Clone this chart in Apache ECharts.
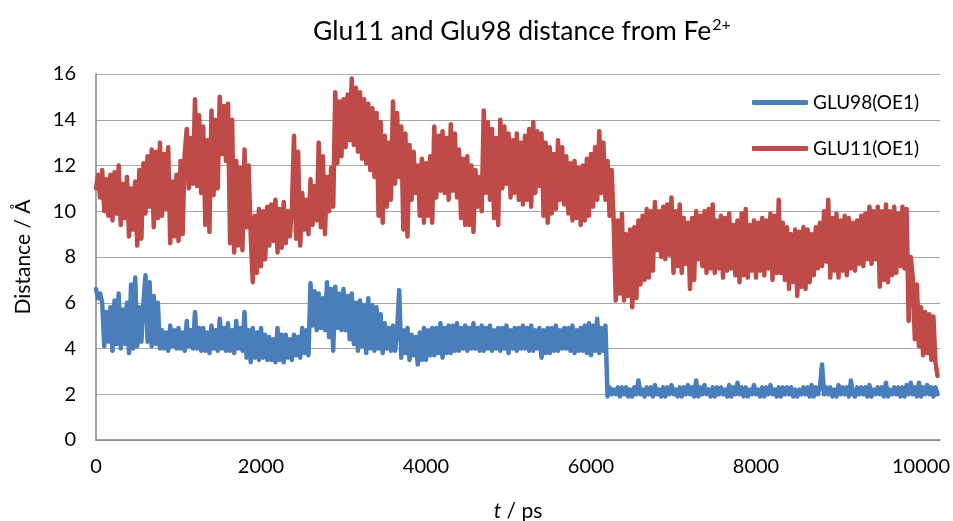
<!DOCTYPE html>
<html>
<head>
<meta charset="utf-8">
<title>Glu11 and Glu98 distance from Fe2+</title>
<script src="https://cdn.jsdelivr.net/npm/echarts@6/dist/echarts.min.js"></script>
<style>
  html, body { margin: 0; padding: 0; background: #fff; }
  #main { width: 953px; height: 521px; }
</style>
</head>
<body>
<div id="main"></div>
<script>
// sampling step of the traces (ps)
const stepPs = 25;

// GLU11(OE1) distance, Å, one value every 25 ps from 0 ps (20 values = 500 ps per row)
const glu11 = [
  11.0, 11.6, 10.6, 11.8, 10.0, 11.4, 9.8, 11.6, 9.6, 11.7, 9.9, 12.0, 9.4, 11.2, 9.7, 11.5, 8.9, 11.0, 9.2, 11.3,
  8.5, 11.8, 8.8, 12.1, 9.9, 12.4, 10.2, 12.7, 9.3, 12.6, 9.7, 13.0, 9.8, 12.5, 10.1, 12.8, 8.6, 11.3, 8.9, 11.6,
  8.7, 12.2, 9.0, 12.5, 13.6, 11.0, 13.2, 11.2, 14.9, 11.1, 14.2, 10.8, 13.7, 9.4, 13.1, 9.1, 14.4, 10.7, 14.0, 11.0,
  15.0, 12.5, 14.6, 12.2, 14.7, 8.6, 14.0, 8.2, 12.2, 8.5, 11.9, 8.3, 12.7, 9.3, 12.0, 9.0, 6.9, 9.8, 7.3, 10.1,
  7.6, 10.0, 7.9, 10.2, 8.5, 10.3, 8.7, 10.5, 8.2, 10.1, 8.4, 10.4, 8.6, 10.0, 8.9, 10.2, 13.3, 8.8, 12.6, 8.5,
  10.8, 9.2, 10.5, 9.0, 11.4, 9.4, 11.1, 9.6, 13.0, 9.3, 12.4, 9.0, 11.5, 10.0, 11.9, 10.2, 15.2, 12.1, 14.8, 12.4,
  14.9, 12.8, 15.1, 13.1, 15.8, 12.9, 15.4, 12.6, 15.2, 12.3, 14.9, 12.1, 14.7, 11.8, 14.5, 11.5, 14.3, 9.8, 13.9, 9.5,
  13.3, 10.2, 13.0, 10.5, 14.8, 11.2, 14.3, 11.5, 13.7, 9.2, 13.4, 8.9, 12.9, 10.5, 12.6, 10.8, 12.0, 9.8, 12.3, 9.5,
  12.1, 9.8, 12.4, 9.5, 13.7, 10.6, 13.3, 10.9, 13.5, 10.8, 13.2, 10.5, 13.8, 10.9, 13.4, 10.6, 12.7, 9.7, 12.3, 9.4,
  12.4, 9.4, 12.0, 9.1, 11.8, 10.2, 11.5, 10.0, 14.4, 10.8, 13.9, 10.5, 13.6, 9.7, 13.2, 9.4, 14.0, 11.0, 13.7, 11.2,
  13.4, 10.6, 13.1, 10.8, 13.4, 10.5, 13.0, 10.3, 13.3, 10.5, 13.6, 10.2, 13.9, 10.8, 13.5, 11.1, 13.4, 9.8, 13.0, 9.5,
  12.8, 9.9, 12.5, 10.1, 13.1, 10.5, 12.8, 10.3, 12.4, 9.9, 12.1, 9.6, 12.2, 9.7, 11.9, 9.4, 12.0, 9.6, 12.3, 9.8,
  12.5, 10.2, 12.8, 10.5, 13.5, 10.8, 13.0, 10.5, 12.2, 9.8, 11.8, 9.5, 6.1, 9.6, 6.4, 9.9, 6.1, 9.0, 6.3, 9.2,
  5.8, 9.3, 6.2, 9.6, 6.8, 9.8, 7.0, 10.1, 7.1, 10.0, 7.4, 10.4, 8.3, 10.0, 8.0, 10.2, 7.9, 10.3, 8.1, 10.6,
  7.3, 10.0, 7.6, 10.3, 7.3, 9.7, 7.7, 9.5, 6.6, 9.7, 7.0, 10.0, 7.9, 9.8, 7.6, 10.0, 7.3, 10.1, 7.5, 10.3,
  7.3, 9.6, 7.5, 9.8, 7.1, 9.7, 7.4, 9.9, 7.5, 9.4, 7.2, 9.6, 6.9, 9.9, 7.2, 10.1, 7.1, 9.4, 7.4, 9.6,
  7.1, 9.5, 7.4, 9.7, 7.2, 9.6, 7.5, 9.9, 7.0, 9.8, 7.3, 10.5, 7.3, 9.5, 7.0, 9.3, 6.6, 9.0, 6.9, 9.2,
  6.3, 9.1, 6.7, 9.3, 6.6, 9.2, 6.9, 9.0, 7.2, 9.3, 7.5, 9.5, 7.6, 10.0, 7.8, 10.5, 7.1, 9.7, 7.4, 9.9,
  7.1, 9.6, 7.4, 9.8, 7.2, 9.7, 7.5, 9.5, 7.4, 9.6, 7.7, 9.8, 7.6, 9.9, 7.9, 10.2, 7.7, 10.0, 7.9, 10.2,
  6.7, 10.0, 7.0, 10.3, 6.9, 10.0, 7.2, 10.2, 7.3, 9.9, 7.6, 10.2, 7.5, 10.1, 5.2, 8.0, 7.1, 4.4, 6.8, 4.1,
  5.8, 3.7, 5.6, 3.8, 5.5, 3.5, 5.4, 3.4, 2.8
];

// GLU98(OE1) distance, Å, one value every 25 ps from 0 ps (20 values = 500 ps per row)
const glu98 = [
  6.6, 6.2, 6.4, 6.0, 4.1, 5.6, 4.3, 5.8, 3.9, 6.1, 4.2, 6.4, 4.0, 5.7, 4.2, 6.0, 3.8, 6.8, 4.0, 7.1,
  4.1, 5.8, 4.3, 6.0, 7.2, 4.3, 6.9, 4.1, 6.3, 4.2, 6.0, 4.0, 4.8, 4.0, 4.7, 3.9, 5.0, 4.1, 4.8, 4.0,
  4.9, 4.0, 4.7, 3.9, 5.2, 4.1, 4.8, 4.0, 5.6, 4.0, 4.9, 3.9, 4.9, 3.9, 4.7, 3.8, 5.0, 4.0, 4.8, 3.9,
  5.3, 4.0, 4.9, 3.9, 5.1, 3.9, 4.8, 3.8, 5.2, 4.0, 4.9, 3.9, 5.6, 3.6, 4.8, 3.4, 4.9, 3.6, 4.7, 3.5,
  4.9, 3.6, 4.6, 3.5, 4.5, 3.5, 4.4, 3.4, 4.9, 3.5, 4.6, 3.4, 4.6, 3.6, 4.4, 3.5, 4.6, 3.7, 4.5, 3.6,
  4.9, 3.8, 4.8, 3.7, 6.85, 5.0, 6.5, 4.8, 6.4, 4.9, 6.2, 4.8, 6.9, 4.5, 6.6, 3.9, 6.7, 4.9, 6.4, 4.8,
  6.6, 4.8, 6.3, 4.4, 6.4, 4.2, 6.0, 3.9, 6.1, 4.1, 5.9, 3.8, 6.2, 4.0, 5.9, 3.9, 5.8, 4.0, 5.5, 3.8,
  5.1, 4.0, 4.9, 3.9, 5.0, 3.9, 4.8, 6.55, 3.6, 4.8, 3.8, 4.9, 3.5, 4.6, 3.7, 4.5, 3.3, 4.7, 3.5, 4.9,
  3.5, 4.8, 3.7, 4.9, 3.7, 4.9, 3.8, 5.1, 3.6, 4.9, 3.8, 5.0, 3.8, 5.0, 3.9, 5.1, 3.9, 4.9, 4.0, 5.0,
  3.9, 4.9, 4.0, 5.1, 4.0, 4.9, 3.9, 5.0, 3.9, 4.9, 4.0, 5.0, 3.9, 4.8, 4.0, 4.9, 3.9, 4.9, 4.0, 5.0,
  3.8, 4.8, 4.0, 4.9, 3.9, 4.9, 4.0, 5.0, 4.0, 4.9, 3.9, 5.0, 3.9, 4.8, 4.0, 4.9, 3.6, 4.8, 3.8, 4.9,
  3.8, 4.9, 3.9, 5.0, 3.9, 4.8, 4.0, 4.9, 4.0, 4.9, 3.9, 5.0, 3.8, 4.8, 3.9, 4.9, 3.9, 5.0, 3.8, 5.1,
  3.7, 5.0, 3.9, 5.3, 3.8, 4.9, 3.9, 5.0, 1.9, 2.3, 2.0, 2.2, 2.0, 2.3, 1.9, 2.3, 2.0, 2.3, 1.9, 2.2,
  1.9, 2.3, 2.0, 2.6, 2.0, 2.2, 1.9, 2.3, 2.0, 2.3, 1.9, 2.4, 2.0, 2.2, 1.9, 2.3, 1.9, 2.3, 2.0, 2.4,
  2.0, 2.2, 1.9, 2.3, 1.9, 2.3, 2.0, 2.4, 2.0, 2.3, 1.9, 2.6, 1.9, 2.3, 2.0, 2.4, 2.0, 2.2, 1.9, 2.3,
  1.9, 2.3, 2.0, 2.3, 2.0, 2.2, 1.9, 2.4, 1.9, 2.3, 2.0, 2.5, 2.0, 2.3, 1.9, 2.3, 1.9, 2.2, 2.0, 2.4,
  2.0, 2.2, 1.9, 2.3, 1.9, 2.3, 2.0, 2.4, 2.0, 2.2, 1.9, 2.3, 1.9, 2.3, 2.0, 2.3, 2.0, 2.3, 1.9, 2.2,
  1.9, 2.2, 2.0, 2.3, 2.0, 2.3, 1.9, 2.4, 1.9, 2.3, 2.0, 2.3, 3.3, 2.0, 2.3, 2.0, 2.3, 1.9, 2.2, 1.9,
  2.4, 2.0, 2.3, 2.0, 2.3, 1.9, 2.6, 2.0, 1.9, 2.3, 2.0, 2.3, 2.0, 2.3, 1.9, 2.4, 1.9, 2.2, 2.0, 2.3,
  2.0, 2.3, 1.9, 2.5, 1.9, 2.2, 2.0, 2.3, 2.0, 2.3, 1.9, 2.3, 1.9, 2.4, 2.0, 2.5, 2.0, 2.3, 1.9, 2.5,
  1.9, 2.3, 2.0, 2.4, 2.0, 2.3, 1.9, 2.3, 2.0
];

const yTicks = [0, 2, 4, 6, 8, 10, 12, 14, 16];
const xTicks = [0, 2000, 4000, 6000, 8000, 10000];

function toPairs(values) {
  return values.map(function (v, i) { return [i * stepPs, v]; });
}

const font = 'Lato, "Open Sans", sans-serif';
const chart = echarts.init(document.getElementById('main'));

const option = {
  animation: false,
  backgroundColor: '#fff',
  textStyle: { fontFamily: font, color: '#000' },
  title: {
    text: '{a|Glu11 and Glu98 distance from Fe}{s|2+}',
    left: 308,
    top: 12,
    textStyle: {
      rich: {
        a: { fontFamily: font, fontSize: 26.5, fontWeight: 'normal', color: '#000' },
        s: { fontFamily: font, fontSize: 16, fontWeight: 'normal', color: '#000', padding: [0, 0, 12, 1] }
      }
    }
  },
  legend: {
    orient: 'vertical',
    left: 747,
    top: 88,
    icon: 'roundRect',
    itemWidth: 56,
    itemHeight: 5,
    itemGap: 27,
    data: ['GLU98(OE1)', 'GLU11(OE1)'],
    textStyle: { fontFamily: font, fontSize: 19, color: '#000' }
  },
  grid: {
    left: 96,
    right: 13,
    top: 74,
    bottom: 81,
    outerBoundsMode: 'none'
  },
  xAxis: {
    type: 'value',
    min: xTicks[0],
    max: 10230,
    interval: 2000,
    name: '{i|t} / ps',
    nameLocation: 'middle',
    nameGap: 61,
    nameTextStyle: {
      fontFamily: font, fontSize: 21, color: '#000',
      rich: { i: { fontFamily: font, fontSize: 21, fontStyle: 'italic', color: '#000' } }
    },
    axisLine: { lineStyle: { color: '#868686', width: 1.5 } },
    axisTick: { show: false },
    splitLine: { show: false },
    axisLabel: {
      fontFamily: font, fontSize: 20, color: '#000', margin: 17,
      showMaxLabel: false,
      formatter: function (v) { return xTicks.indexOf(v) >= 0 ? String(v) : ''; }
    }
  },
  yAxis: {
    type: 'value',
    min: yTicks[0],
    max: yTicks[yTicks.length - 1],
    interval: 2,
    name: 'Distance / Å',
    nameLocation: 'middle',
    nameGap: 62,
    nameTextStyle: { fontFamily: font, fontSize: 21, color: '#000' },
    axisLine: { show: true, lineStyle: { color: '#868686', width: 1.5 } },
    axisTick: { show: false },
    splitLine: { lineStyle: { color: '#a6a6a6', width: 1.2 } },
    axisLabel: { fontFamily: font, fontSize: 20, color: '#000', margin: 20 }
  },
  series: [
    {
      name: 'GLU98(OE1)',
      type: 'line',
      symbol: 'none',
      data: toPairs(glu98),
      color: '#4a7ebb',
      lineStyle: { color: '#4a7ebb', width: 4.5, join: 'round', cap: 'round' }
    },
    {
      name: 'GLU11(OE1)',
      type: 'line',
      symbol: 'none',
      data: toPairs(glu11),
      color: '#be4b48',
      lineStyle: { color: '#be4b48', width: 4.5, join: 'round', cap: 'round' }
    }
  ]
};

chart.setOption(option);
</script>
</body>
</html>
